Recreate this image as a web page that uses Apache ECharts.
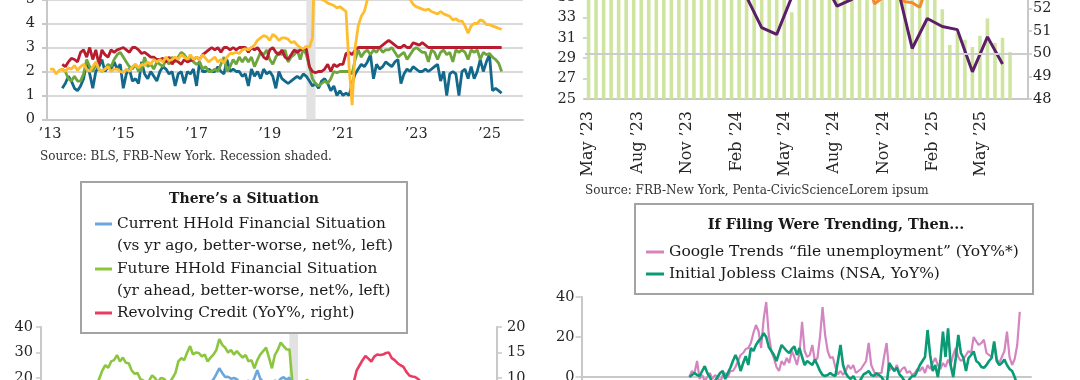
<!DOCTYPE html>
<html><head><meta charset="utf-8">
<script src="https://cdn.jsdelivr.net/npm/echarts@6/dist/echarts.min.js"></script>
<style>html,body{margin:0;padding:0;background:#fff}#c{width:1080px;height:380px}</style>
</head><body><div id="c"></div>
<script>
// ---------------- DATA ----------------
// Top-left panel (monthly, %), x in years
const tlBlueStart = [2013, 5];
const tlBlue = [1.3,1.5,1.8,1.6,1.3,1.2,1.4,1.7,
 2.4,1.9,1.3,2.0,2.2,2.5,2.0,2.2,2.1,2.4,2.1,2.3,
 1.3,1.9,2.1,1.6,1.7,1.5,2.4,1.9,1.7,2.0,1.8,1.6,
 2.0,2.2,2.1,1.9,2.0,1.4,1.9,2.0,1.5,2.0,1.9,2.1,
 1.4,2.4,2.0,2.0,2.1,2.0,2.0,2.2,2.0,1.9,2.5,2.0,
 2.1,2.0,2.0,1.8,1.9,1.4,2.1,1.8,2.0,1.7,2.1,1.9,
 2.0,1.8,1.3,2.0,1.7,1.6,1.5,1.6,1.7,1.8,1.7,1.9,
 1.8,1.6,1.4,1.5,1.3,1.6,1.7,1.5,1.2,1.4,1.0,1.2,
 1.0,1.1,1.0,1.5,1.9,2.1,2.3,2.2,2.4,2.7,1.7,2.3,
 2.1,2.2,2.4,2.3,2.2,2.4,2.5,1.5,1.9,2.1,2.0,2.2,
 2.1,2.0,2.0,2.1,2.0,2.1,2.2,2.3,1.6,2.0,1.0,1.9,
 2.0,1.9,1.0,2.0,2.1,1.7,2.2,1.7,2.0,2.5,2.0,2.4,
 2.7,1.2,1.3,1.2,1.1];
const tlGreenStart = [2013, 5];
const tlGreen = [2.1,2.0,1.7,1.6,1.8,1.6,1.6,1.9,
 2.5,2.2,2.0,2.3,2.1,2.0,2.1,2.3,2.2,2.5,2.7,2.8,
 2.6,2.4,2.2,2.1,2.3,2.0,2.1,2.6,2.2,2.3,2.1,2.4,
 2.3,2.2,2.5,2.3,2.6,2.4,2.6,2.8,2.7,2.5,2.6,2.4,
 2.3,2.4,2.1,2.2,2.0,2.0,2.1,2.0,2.3,2.6,2.0,2.2,
 2.5,2.3,2.6,2.4,2.6,2.4,2.6,2.2,2.5,2.8,2.7,2.9,
 2.5,2.3,2.6,2.8,2.7,2.9,2.4,2.6,2.7,2.9,2.5,2.95,
 2.7,2.2,1.7,1.5,1.4,1.5,1.6,1.5,1.7,2.0,1.95,2.0,
 2.0,2.0,2.0,1.9,2.5,2.9,2.6,2.8,2.9,2.7,2.9,2.8,
 3.0,2.8,2.9,2.9,3.0,2.8,2.6,2.7,2.8,2.5,2.7,2.9,
 3.0,2.9,2.8,2.8,2.4,2.9,2.8,2.5,2.8,2.9,2.7,2.8,
 2.4,2.9,2.8,2.9,2.8,2.5,2.9,2.8,2.9,2.5,2.8,2.7,
 2.75,2.6,2.5,2.35,2.0];
const tlRedStart = [2013, 5];
const tlRed = [2.3,2.2,2.4,2.55,2.5,2.4,2.8,2.9,
 2.6,3.0,2.5,2.9,2.3,2.9,2.7,2.6,2.9,2.8,2.9,2.95,
 3.0,2.9,2.8,3.0,3.0,2.9,2.75,2.8,2.7,2.6,2.6,2.5,
 2.5,2.55,2.4,2.6,2.3,2.5,2.4,2.3,2.5,2.4,2.45,2.5,
 2.6,2.5,2.7,2.8,2.9,3.0,2.9,3.0,2.8,3.0,3.0,2.9,
 3.0,2.9,3.0,3.0,3.0,2.8,3.0,2.9,3.0,2.8,2.6,2.5,
 2.9,3.0,2.8,2.7,2.9,2.6,2.5,2.7,2.9,2.8,2.9,2.95,
 2.95,2.2,2.0,1.95,2.0,2.0,2.1,2.3,2.0,2.3,2.2,2.3,
 2.3,2.75,2.8,2.7,2.9,3.0,3.0,3.0,3.0,3.0,3.0,3.0,
 3.0,3.1,3.2,3.3,3.2,3.1,3.0,3.0,3.1,3.0,3.0,3.2,
 3.15,3.1,3.2,3.1,3.0,3.0,3.0,3.0,3.0,3.0,3.0,3.0,
 3.0,3.0,3.0,3.0,3.0,3.0,3.0,3.0,3.0,3.0,3.0,3.0,
 3.0,3.0,3.0,3.0,3.0];
const tlYellowStart = [2013, 1];
const tlYellow = [2.1,2.1,1.9,2.05,2.1,2.0,2.15,2.1,2.25,2.05,2.2,2.3,
 2.1,2.0,2.2,2.4,2.1,2.0,2.1,2.2,2.0,2.1,2.1,2.0,
 1.95,2.1,2.0,2.2,2.3,2.15,2.3,2.25,2.4,2.3,2.5,2.4,
 2.5,2.4,2.6,2.45,2.5,2.6,2.5,2.7,2.6,2.5,2.7,2.5,
 2.6,2.5,2.7,2.55,2.4,2.5,2.6,2.4,2.5,2.35,2.6,2.75,
 2.75,2.8,2.75,2.9,2.95,2.9,3.0,3.1,3.3,3.4,3.5,3.45,
 3.3,3.55,3.45,3.3,3.4,3.4,3.35,3.2,3.25,3.1,3.0,2.95,
 3.05,3.0,3.4,8.0,6.7,5.0,4.95,4.85,4.8,4.75,4.65,4.7,
 4.6,4.5,2.2,0.6,3.0,3.9,4.3,4.5,5.0,5.4,5.6,5.7,
 5.8,5.9,6.0,5.9,5.8,5.6,5.5,5.4,5.3,5.2,5.0,4.8,
 4.7,4.65,4.6,4.55,4.6,4.5,4.45,4.4,4.5,4.4,4.35,4.3,
 4.15,4.2,4.1,4.1,3.9,3.6,3.9,4.0,4.0,4.15,4.1,3.95,
 3.95,3.9,3.85,3.8,3.75];
const recession = [2020.0, 2020.25];
const tlTickYears = [2013, 2015, 2017, 2019, 2021, 2023, 2025];

// Top-right panel: biweekly bars (left axis), lines (right axis)
const trStartDate = [2023, 5, 2];
const trStepDays = 14;
const trBars = [37.2,38.1,37.6,38.4,37.9,38.8,38.2,37.5,38.6,39.1,38.3,37.8,38.5,39.0,38.7,38.1,37.6,38.2,38.9,38.4,
 37.9,37.3,36.8,37.4,36.9,36.2,35.8,33.5,36.4,36.9,37.2,36.6,37.0,36.5,36.1,36.8,36.3,35.9,36.4,35.8,
 36.2,35.7,35.4,36.0,35.5,35.2,35.6,33.8,30.3,31.5,30.8,30.1,31.2,32.9,30.5,31.0,29.6];
const trPurpleFirst = 1, trPurpleEvery = 2;
const trPurple = [54.6,54.9,55.2,54.8,54.3,54.7,55.0,54.5,54.1,53.8,52.5,51.15,50.85,52.5,
 53.4,53.35,52.1,52.4,53.5,53.8,53.0,50.23,51.55,51.2,51.06,49.2,50.74,49.54];
const trOrangeFirst = 30, trOrangeEvery = 1;
const trOrange = [54.8,54.2,54.5,54.0,53.8,54.1,53.6,53.2,52.2,52.45,53.3,52.6,52.3,52.25,52.05,53.0,53.6];
const trRefLine = 50;
const trTickMonths = [[2023,5],[2023,8],[2023,11],[2024,2],[2024,5],[2024,8],[2024,11],[2025,2],[2025,5]];
const MONTHS = ['Jan','Feb','Mar','Apr','May','Jun','Jul','Aug','Sep','Oct','Nov','Dec'];

// Bottom-left panel (monthly)
const blGreenStart = [2014, 8];
const blGreen = [17,20,23,25,24,
 26.5,27,29,26.5,28,26,25.8,23,21.7,22,19.5,19,
 18.3,19,21,20,18.3,20,19.7,18.5,18.3,20,22,26.5,
 27.8,27,30,32.5,29.2,30,29.8,28.5,29.2,26.5,28,29.2,
 31,35.3,33,31.9,30,31,29.2,30.5,29.2,28,29,26.5,
 27,23.8,27,29.2,30.5,31.9,28,23.8,29,31,33.9,32.5,
 31.2,31.2,18.3,12,11,13,15,19.5,17,15,14,13];
const blBlueStart = [2017, 6];
const blBlue = [14,15,16,17,16.5,18,19.5,
 21.5,23.8,22,20.4,20.5,19.7,20,19.5,18.3,17.5,18.5,18.9,
 17.5,20,23.1,19.7,18.5,18,17.5,18.4,19,18.3,19.7,20.3,
 19.3,20.2,12,6,4,5];
const blRedStart = [2021, 6];
const blRed = [3,4,5,5.5,6.5,7.5,9.2,
 11.5,12.5,13.5,14.3,13.8,13.2,14.2,14.6,14.5,14.6,14.9,15.0,
 13.9,13.5,12.9,12.5,12.2,11.2,10.5,10.3,10.2,9.8,9.2,8.5,
 8.0,7.5,7.0];
const blRecession = [2020.08, 2020.33];

// Bottom-right panel (biweekly, YoY%)
const brStart = 2020.62, brPerYear = 26;
const brPink = [0,3,2,8,-1,1,-2,0,2,-1,1,0,-3,1,2,0,3,3,5,8,
 11,12,14,14.5,17,22,26,23,14.5,29,37.5,21,13,9.5,5,3,8,6,9.5,7,
 13,10,6,12,27.6,13,10,11,16,8,9.5,20,35,21,13,9.5,10,5,1.3,3,
 1,3,6,4,6,2,3,4,6,8,17,6,3,0,2,2,10,17,3,5,
 3,6,2,4,5,2,3,1,2,4,3,5,2,6,4,7,9.5,6,4,7,
 5,8.7,6,11,14.5,10,8,9,11,13,12,20,17.8,16,17,18.6,12,11,10,17,
 9,7,10,13,22.7,10,6,9,16,32.6];
const brTeal = [0,1,2,1,0.5,3,5.4,2,0,-3,-2,0,2,3,-1,2,4.6,8,11,8,
 3,7,10.4,6,14.5,13,16,18,19.4,21.9,20,15,13,11,8,12,16,14.5,13,12,
 14,15.3,11,14.5,10,6,8,7,6,8.7,6,3,1,0.5,1,2,1,0.5,8,16,
 6,2,0,-1,0.5,-2,-3,-1,1.3,2,3,1,0.5,2,1,0,-2,-4,7,5,
 3,4.6,1.3,0,-2,-3,-1,0.5,0.5,3,6,8,10,23.5,11,3,6,0,8,22.7,
 10,24.3,6,0,9.5,21,12,9.5,3,9.5,11,12.8,8,7,5,4.6,6,8,9.5,17.8,
 8,6,7,8.7,6,4,3,0,-4,-7];

// ---------------- BUILD ----------------
const FONT = '"DejaVu Serif", serif';
const TXT = '#262626';
const AX = '#c8c8c8';
const monthly = (st, vals) => vals.map((v, i) => [st[0] + (st[1] - 1 + i) / 12, v]);
const DAY0 = Date.UTC(2023, 4, 1);
const dayOf = (y, m, d) => (Date.UTC(y, m - 1, d) - DAY0) / 864e5;
const barDay0 = dayOf(trStartDate[0], trStartDate[1], trStartDate[2]);
const barX = i => barDay0 + i * trStepDays;
const trBarData = trBars.map((v, i) => [barX(i), v]);
const trPurpleData = trPurple.map((v, j) => [barX(trPurpleFirst + j * trPurpleEvery), v]);
const trOrangeData = trOrange.map((v, j) => [barX(trOrangeFirst + j * trOrangeEvery), v]);
const trTicks = trTickMonths.map(a => dayOf(a[0], a[1], 1));
const brData = arr => arr.map((v, k) => [brStart + k / brPerYear, v]);

const lbl = (extra) => Object.assign({color: TXT, fontFamily: FONT, fontSize: 14.5}, extra || {});
const axLine = {show: true, lineStyle: {color: AX, width: 2}};

const chart = echarts.init(document.getElementById('c'), null, {renderer: 'canvas'});
const line = (name, data, color, xi, yi, w, z, extra) => Object.assign({
  name, type: 'line', data, xAxisIndex: xi, yAxisIndex: yi, showSymbol: false, symbol: 'none',
  lineStyle: {color, width: w}, itemStyle: {color}, z, animation: false
}, extra || {});
const G = (l, t, w, h) => ({left: l, top: t, width: w, height: h, outerBoundsMode: 'none', containLabel: false});
const legText = (text, x, y, size) => ({type: 'text', z: 61, style: {text, x, y, font: size + 'px ' + FONT, fill: '#1a1a1a',
  textVerticalAlign: 'middle', verticalAlign: 'middle'}});
const legMark = (color, x1, x2, y) => ({type: 'line', z: 61, shape: {x1, y1: y, x2, y2: y}, style: {stroke: color, lineWidth: 3}});

const C = {
  tlBlue: '#13698b', tlGreen: '#6ea53c', tlRed: '#b81d2f', tlYellow: '#fdbd2e',
  bar: '#cfe59f', purple: '#5b1f69', orange: '#f5892b',
  blBlue: '#6aa7dd', blGreen: '#8cc63f', blRed: '#ec3b63',
  pink: '#d384c1', teal: '#0a9b75'
};

const option = {
  animation: false,
  backgroundColor: '#fff',
  grid: [
    G(47, -24.5, 476, 144),
    G(585, -105, 443, 204),
    G(41, 327, 456, 204),
    G(581.5, 297, 449.5, 160)
  ],
  xAxis: [
    {gridIndex: 0, type: 'value', min: 2012 + 11/12, max: 2025 + 11/12,
     axisLine: axLine, axisTick: {show: false}, splitLine: {show: false},
     axisLabel: lbl({margin: 7, customValues: tlTickYears, formatter: v => '\u2019' + String(Math.round(v)).slice(2)})},
    {gridIndex: 1, type: 'value', min: -5.6, max: 818.4,
     axisLine: axLine, axisTick: {show: false}, splitLine: {show: false},
     axisLabel: lbl({rotate: 90, margin: 12, fontSize: 16, customValues: trTicks,
       formatter: v => { const d = new Date(DAY0 + Math.round(v) * 864e5); return MONTHS[d.getUTCMonth()] + ' \u2019' + String(d.getUTCFullYear()).slice(2); }})},
    {gridIndex: 2, type: 'value', min: 2013, max: 2026, show: false},
    {gridIndex: 3, type: 'value', min: 2019, max: 2025.75,
     axisLine: {show: true, onZero: true, lineStyle: {color: AX, width: 2}}, axisTick: {show: false},
     axisLabel: {show: false}, splitLine: {show: false}}
  ],
  yAxis: [
    {gridIndex: 0, type: 'value', min: 0, max: 6, interval: 1,
     axisLine: axLine, axisTick: {show: true, length: 5, lineStyle: {color: AX, width: 2}},
     splitLine: {show: true, lineStyle: {color: '#d9d9d9', width: 2}},
     axisLabel: lbl({margin: 12})},
    {gridIndex: 1, type: 'value', min: 25, max: 45, interval: 2, position: 'left',
     axisLine: axLine, axisTick: {show: true, length: 5, lineStyle: {color: AX, width: 1.5}},
     splitLine: {show: false}, axisLabel: lbl({margin: 9})},
    {gridIndex: 1, type: 'value', min: 48, max: 57, interval: 1, position: 'right',
     axisLine: axLine, axisTick: {show: true, length: 4, lineStyle: {color: AX, width: 1.5}},
     splitLine: {show: false}, axisLabel: lbl({margin: 5})},
    {gridIndex: 2, type: 'value', min: -40, max: 40, interval: 10, position: 'left',
     axisLine: axLine, axisTick: {show: true, length: 5, lineStyle: {color: AX, width: 1.5}},
     splitLine: {show: false}, axisLabel: lbl({margin: 8})},
    {gridIndex: 2, type: 'value', min: -20, max: 20, interval: 5, position: 'right',
     axisLine: axLine, axisTick: {show: true, length: 5, lineStyle: {color: AX, width: 1.5}},
     splitLine: {show: false}, axisLabel: lbl({margin: 10})},
    {gridIndex: 3, type: 'value', min: -40, max: 40, interval: 20,
     axisLine: axLine, axisTick: {show: true, length: 6, lineStyle: {color: AX, width: 1.5}},
     splitLine: {show: false}, axisLabel: lbl({margin: 7})}
  ],
  series: [
    line('Series A', monthly(tlBlueStart, tlBlue), C.tlBlue, 0, 0, 2.8, 2, {
      markArea: {silent: true, itemStyle: {color: '#e2e2e2'}, data: [[{xAxis: recession[0]}, {xAxis: recession[1]}]]}
    }),
    line('Series B', monthly(tlGreenStart, tlGreen), C.tlGreen, 0, 0, 2.8, 3),
    line('Series C', monthly(tlRedStart, tlRed), C.tlRed, 0, 0, 2.8, 4),
    line('Series D', monthly(tlYellowStart, tlYellow), C.tlYellow, 0, 0, 2.8, 5),

    {name: 'Bars', type: 'bar', xAxisIndex: 1, yAxisIndex: 1, data: trBarData, barWidth: 3.6,
     itemStyle: {color: C.bar}, z: 1, animation: false},
    line('Purple', trPurpleData, C.purple, 1, 2, 3, 4, {
      markLine: {silent: true, symbol: 'none', label: {show: false},
        lineStyle: {color: '#cccccc', width: 2, type: 'solid'}, data: [{yAxis: trRefLine}]}
    }),
    line('Orange', trOrangeData, C.orange, 1, 2, 3, 3),

    line('Current HHold Financial Situation', monthly(blBlueStart, blBlue), C.blBlue, 2, 3, 2.6, 3, {
      markArea: {silent: true, itemStyle: {color: '#e2e2e2'}, data: [[{xAxis: blRecession[0]}, {xAxis: blRecession[1]}]]}
    }),
    line('Future HHold Financial Situation', monthly(blGreenStart, blGreen), C.blGreen, 2, 3, 2.6, 2),
    line('Revolving Credit (YoY%, right)', monthly(blRedStart, blRed), C.blRed, 2, 4, 2.6, 4),

    line('Google Trends \u201cfile unemployment\u201d (YoY%*)', brData(brPink), C.pink, 3, 5, 2.2, 2),
    line('Initial Jobless Claims (NSA, YoY%)', brData(brTeal), C.teal, 3, 5, 2.6, 3)
  ],
  graphic: [
    {type: 'text', z: 50, style: {text: 'Source: BLS, FRB-New York. Recession shaded.', x: 40, y: 157,
      font: '12px ' + FONT, fill: '#333', textVerticalAlign: 'middle', verticalAlign: 'middle'}},
    {type: 'text', z: 50, style: {text: 'Source: FRB-New York, Penta-CivicScienceLorem ipsum', x: 585, y: 191,
      font: '12px ' + FONT, fill: '#333', textVerticalAlign: 'middle', verticalAlign: 'middle'}},

    {type: 'rect', z: 60, shape: {x: 81, y: 182, width: 326, height: 151}, style: {fill: '#fff', stroke: '#a3a3a3', lineWidth: 2}},
    {type: 'text', z: 61, style: {text: 'There\u2019s a Situation', x: 244, y: 199, font: 'bold 14px ' + FONT, fill: '#1a1a1a',
      textAlign: 'center', align: 'center', textVerticalAlign: 'middle', verticalAlign: 'middle'}},
    legMark(C.blBlue, 95, 112, 224),
    legMark(C.blGreen, 95, 112, 269),
    legMark(C.blRed, 95, 112, 313),
    legText('Current HHold Financial Situation', 117, 224, 15.3),
    legText('(vs yr ago, better-worse, net%, left)', 117, 246, 15.3),
    legText('Future HHold Financial Situation', 117, 269, 15.3),
    legText('(yr ahead, better-worse, net%, left)', 117, 291, 15.3),
    legText('Revolving Credit (YoY%, right)', 117, 313, 15.3),

    {type: 'rect', z: 60, shape: {x: 635, y: 204, width: 398, height: 90}, style: {fill: '#fff', stroke: '#a3a3a3', lineWidth: 2}},
    {type: 'text', z: 61, style: {text: 'If Filing Were Trending, Then...', x: 836, y: 225, font: 'bold 14.5px ' + FONT, fill: '#1a1a1a',
      textAlign: 'center', align: 'center', textVerticalAlign: 'middle', verticalAlign: 'middle'}},
    legMark(C.pink, 646, 664, 252),
    legMark(C.teal, 646, 664, 274),
    legText('Google Trends \u201cfile unemployment\u201d (YoY%*)', 669, 252, 15.5),
    legText('Initial Jobless Claims (NSA, YoY%)', 669, 274, 15.5)
  ]
};
chart.setOption(option);
</script></body></html>
